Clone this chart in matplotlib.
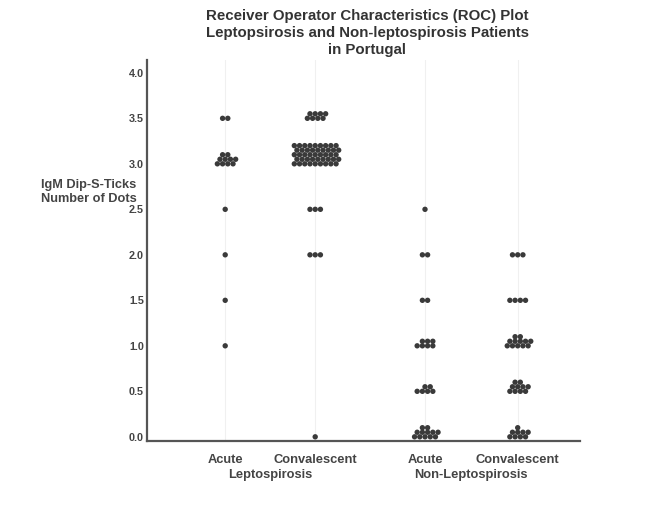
import math
import matplotlib
matplotlib.use('Agg')
import matplotlib.pyplot as plt

plt.rcParams['font.family'] = ['Liberation Sans', 'DejaVu Sans']

# dot counts: one list per group, one entry per score level
levels = [0.0, 0.5, 1.0, 1.5, 2.0, 2.5, 3.0, 3.5]
lepto_acute = [0, 0, 1, 1, 1, 1, 10, 2]
lepto_conv = [1, 0, 0, 0, 3, 3, 45, 8]
nonlepto_acute = [12, 6, 7, 2, 2, 1, 0, 0]
nonlepto_conv = [9, 10, 12, 4, 3, 0, 0, 0]

groups = [lepto_acute, lepto_conv, nonlepto_acute, nonlepto_conv]
xpos = [1.0, 2.0, 3.22, 4.25]
top_labels = ['Acute', 'Convalescent', 'Acute', 'Convalescent']
group_names = ['Leptospirosis', 'Non-Leptospirosis']

dx = 0.058   # horizontal dot spacing
dy = 0.05    # vertical row spacing
ink = '#3a3a3a'


def swarm(x0, y0, n):
    # pack n dots in staggered rows, stacked upward from the level
    if n <= 4:
        per_row = n
    else:
        per_row = math.ceil(math.sqrt(1.6 * n))
    xs, ys = [], []
    row = 0
    left = n
    while left > 0:
        k = min(per_row, left)
        shift = 0.5 * dx if row % 2 else 0.0
        for j in range(k):
            xs.append(x0 + (j - (k - 1) / 2) * dx + shift)
            ys.append(y0 + row * dy)
        left -= k
        row += 1
    return xs, ys


fig = plt.figure(figsize=(6.5, 5.18), dpi=100)
ax = fig.add_axes([0.226, 0.149, 0.666, 0.735])

for x in xpos:
    ax.axvline(x, color='#f0f0f0', lw=0.8, zorder=0)

for x, counts in zip(xpos, groups):
    for lev, n in zip(levels, counts):
        if n == 0:
            continue
        xs, ys = swarm(x, lev, n)
        ax.scatter(xs, ys, s=15, color=ink, edgecolors='none', zorder=3)

ax.set_xlim(0.13, 4.94)
ax.set_ylim(-0.044, 4.14)
ax.set_yticks([0, 0.5, 1, 1.5, 2, 2.5, 3, 3.5, 4])
ax.set_yticklabels(['%.1f' % v for v in [0, 0.5, 1, 1.5, 2, 2.5, 3, 3.5, 4]],
                   fontsize=7.8, fontweight='bold', color='#444444')
ax.tick_params(axis='y', length=0, pad=2)
ax.set_xticks([])
for s in ['top', 'right']:
    ax.spines[s].set_visible(False)
for s in ['left', 'bottom']:
    ax.spines[s].set_color('#555555')
    ax.spines[s].set_linewidth(1.6)

for x, lab in zip(xpos, top_labels):
    ax.text(x, -0.19, lab, ha='center', va='top', fontsize=9.3,
            fontweight='bold', color='#444444')
for i, name in enumerate(group_names):
    ax.text((xpos[2 * i] + xpos[2 * i + 1]) / 2, -0.35, name, ha='center',
            va='top', fontsize=9.3, fontweight='bold', color='#444444')

fig.text(0.137, 0.63, 'IgM Dip-S-Ticks\nNumber of Dots', ha='center',
         va='center', fontsize=9.2, fontweight='bold', color='#444444',
         linespacing=1.25)

fig.text(0.565, 0.936, 'Receiver Operator Characteristics (ROC) Plot\n'
         'Leptopsirosis and Non-leptospirosis Patients\nin Portugal',
         ha='center', va='center', fontsize=10.8, fontweight='bold',
         color='#333333', linespacing=1.27)

fig.savefig('out.png', dpi=100)
